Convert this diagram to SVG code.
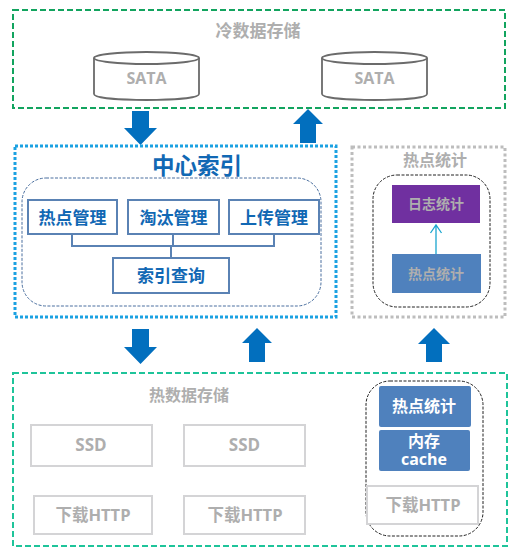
<svg xmlns="http://www.w3.org/2000/svg" width="517" height="553" viewBox="0 0 517 553">
<style>
text{font-family:"Open Sans","Noto Sans CJK SC",sans-serif;font-weight:700;text-anchor:middle}
.g{fill:#aeaeae}.b{fill:#1168b4}.w{fill:#fff}
.db{fill:#1168b4;font-size:17px}
.grey{fill:#fff;stroke:#d4d4d6;stroke-width:2}
.blue{fill:none;stroke:#5a82b4;stroke-width:2}
.dash{fill:#fff;stroke:#222;stroke-width:1;stroke-dasharray:3 1.5}
.cyl{fill:#fff;stroke:#6b6b6b;stroke-width:1.800}
.arr{fill:#026fbe}
</style>
<rect width="517" height="553" fill="#fff"/>
<g id="cold">
<rect x="13" y="10" width="492" height="98" fill="#fff" stroke="#12a45f" stroke-width="2" stroke-dasharray="6 3"/>
<text class="g" x="258" y="37" font-size="17">冷数据存储</text>
</g>
<g id="sata1">
<path class="cyl" d="M94 58V94C94 102 199 102 199 94V58"/><ellipse class="cyl" cx="146.500" cy="58" rx="52.500" ry="6"/>
<text class="g" x="146.500" y="84" font-size="16">SATA</text>
</g>
<g id="sata2">
<path class="cyl" d="M322 58V94C322 102 427 102 427 94V58"/><ellipse class="cyl" cx="374.500" cy="58" rx="52.500" ry="6"/>
<text class="g" x="374.500" y="84" font-size="16">SATA</text>
</g>
<g id="connectors">
<path class="arr" d="M132 111H149V128H157L140.500 145L124 128H132Z"/>
<path class="arr" d="M308 109L323 124H316V143H300V124H293Z"/>
<path class="arr" d="M132 329H149V347H157L140.500 364L124 347H132Z"/>
<path class="arr" d="M257 328L272 343H265V362H249V343H242Z"/>
<path class="arr" d="M434 328L450 344H442V362H426V344H418Z"/>
</g>
<g id="center">
<rect x="15" y="146" width="321" height="171" fill="#fff" stroke="#1ba1e2" stroke-width="3" stroke-dasharray="3 2"/>
<text class="b" x="197" y="174" font-size="22.500">中心索引</text>
<rect x="22" y="178" width="299" height="128" rx="24" fill="#fff" stroke="#4a6f9f" stroke-width="1" stroke-dasharray="3 1.500"/>
</g>
<g id="tree-lines">
<path d="M72 234V246H274V234M173 234V246M171 246V258" fill="none" stroke="#5a82b4" stroke-width="2"/>
</g>
<g id="hot-mgmt"><rect class="blue" x="28" y="200" width="89" height="34"/><text class="db" x="72.500" y="224">热点管理</text></g>
<g id="evict-mgmt"><rect class="blue" x="128" y="200" width="91" height="34"/><text class="db" x="173.500" y="224">淘汰管理</text></g>
<g id="upload-mgmt"><rect class="blue" x="229" y="200" width="90" height="34"/><text class="db" x="274" y="224">上传管理</text></g>
<g id="index-query"><rect class="blue" x="113" y="258" width="116" height="35"/><text class="db" x="171" y="282">索引查询</text></g>
<g id="stats">
<rect x="352" y="147" width="153" height="170" fill="#fff" stroke="#bdbdbd" stroke-width="3" stroke-dasharray="3 2.500"/>
<text class="g" x="435" y="166" font-size="16">热点统计</text>
<rect class="dash" x="373" y="175" width="117" height="132" rx="24"/>
</g>
<g id="log-stat"><rect x="392" y="185" width="88" height="38" fill="#7030a0"/><text class="g" x="436" y="209" font-size="14">日志统计</text></g>
<g id="hot-stat"><rect x="392" y="254" width="89" height="39" fill="#4f81bd"/><text class="g" x="436" y="279" font-size="14">热点统计</text></g>
<g id="stat-arrow"><path d="M436 254V225M430.500 233L436 225L441.500 233" fill="none" stroke="#1ba6cf" stroke-width="1.300"/></g>
<g id="hot-store">
<rect x="13" y="373" width="494" height="173" fill="#fff" stroke="#1fc49a" stroke-width="2" stroke-dasharray="6 3"/>
<text class="g" x="189" y="401" font-size="16">热数据存储</text>
</g>
<g id="ssd1"><rect class="grey" x="31" y="425" width="121" height="41"/><text class="g" x="91" y="451" font-size="17">SSD</text></g>
<g id="ssd2"><rect class="grey" x="184" y="425" width="121" height="41"/><text class="g" x="244.500" y="451" font-size="17">SSD</text></g>
<g id="http1"><rect class="grey" x="34" y="496" width="118" height="38"/><text class="g" x="93" y="521" font-size="16.500">下载HTTP</text></g>
<g id="http2"><rect class="grey" x="184" y="496" width="121" height="38"/><text class="g" x="245" y="521" font-size="16.500">下载HTTP</text></g>
<g id="node-group"><rect class="dash" x="366" y="381" width="117" height="155" rx="24"/></g>
<g id="hot-stat2"><rect x="379" y="386" width="92" height="41" rx="2" fill="#4f81bd"/><text class="w" x="424" y="412" font-size="16">热点统计</text></g>
<g id="mem"><rect x="379" y="430" width="91" height="41" rx="2" fill="#4f81bd"/><text class="w" font-size="16"><tspan x="424" y="447">内存</tspan><tspan x="424" y="465">cache</tspan></text></g>
<g id="http3"><rect class="grey" x="367" y="486" width="111" height="38"/><text class="g" x="423" y="511" font-size="16.500">下载HTTP</text></g>
</svg>
